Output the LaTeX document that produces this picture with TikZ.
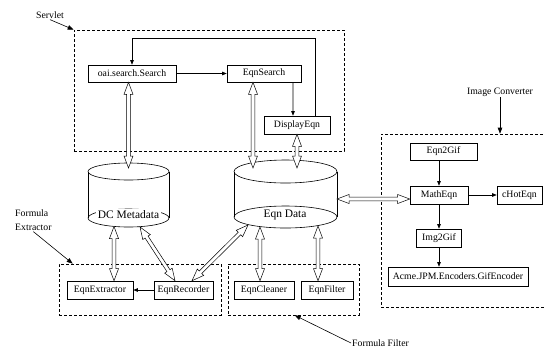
\documentclass[tikz,border=0pt]{standalone}
\usepackage{fontspec}
\setmainfont{Liberation Serif}
\usetikzlibrary{arrows.meta,calc,positioning}

\newcommand{\headlen}{12bp}
\newcommand{\headw}{4.5bp}
\newcommand{\shaftw}{1.8bp}
% hollow double-headed arrow between two points
\newcommand{\hollowarrow}[2]{%
  \coordinate (ha) at (#1);
  \coordinate (hb) at (#2);
  \draw[hollow] (ha)
    -- ($(ha)!\headlen!(hb)!\headw!90:(hb)$)
    -- ($(ha)!\headlen!(hb)!\shaftw!90:(hb)$)
    -- ($(hb)!\headlen!(ha)!\shaftw!-90:(ha)$)
    -- ($(hb)!\headlen!(ha)!\headw!-90:(ha)$)
    -- (hb)
    -- ($(hb)!\headlen!(ha)!\headw!90:(ha)$)
    -- ($(hb)!\headlen!(ha)!\shaftw!90:(ha)$)
    -- ($(ha)!\headlen!(hb)!\shaftw!-90:(hb)$)
    -- ($(ha)!\headlen!(hb)!\headw!-90:(hb)$)
    -- cycle;}

\tikzset{
  comp/.style={draw, line width=0.6bp, inner sep=1bp, minimum height=18bp,
    font=\fontsize{9.8}{11}\selectfont},
  group/.style={draw, dash pattern=on 3bp off 2bp, line width=0.6bp, inner sep=0pt},
  lbl/.style={inner sep=1bp, font=\fontsize{9.8}{14}\selectfont},
  store/.style={fill=white, inner sep=2bp, font=\fontsize{11.5}{13}\selectfont},
  cyl/.style={line width=0.6bp},
  flow/.style={-{Triangle[length=4.5bp,width=3.5bp]}, line width=0.6bp},
  pointer/.style={-{Triangle[length=6bp,width=4.5bp]}, line width=0.6bp},
  hollow/.style={draw, fill=white, line width=0.5bp}
}

\begin{document}
\begin{tikzpicture}[x=1bp, y=-1bp]
        \clip (0,0) rectangle (544,350);
        % dashed groups
        \node[group, minimum width=270bp, minimum height=121bp] (servlet) at (209,90.5) {};
        \node[group, minimum width=162bp, minimum height=51bp] (extract) at (140,289.5) {};
        \node[group, minimum width=131bp, minimum height=51bp] (filter) at (293.5,289.5) {};
        \node[group, minimum width=167bp, minimum height=173bp] (conv) at (464.5,220.5) {};
        % components
        \node[comp, minimum width=88bp, minimum height=17bp] (oai) at (132,73.5) {oai.search.Search};
        \node[comp, minimum width=74bp, minimum height=17bp] (search) at (264,73.5) {EqnSearch};
        \node[comp, minimum width=66bp] (disp) at (297,125) {DisplayEqn};
        \node[comp, minimum width=66bp] (extractor) at (100,290) {EqnExtractor};
        \node[comp, minimum width=59bp] (recorder) at (183.5,290) {EqnRecorder};
        \node[comp, minimum width=60bp] (cleaner) at (264,290) {EqnCleaner};
        \node[comp, minimum width=52bp] (eqfilter) at (327,290) {EqnFilter};
        \node[comp, minimum width=67bp, minimum height=17bp] (eqn2gif) at (443.5,151.5) {Eqn2Gif};
        \node[comp, minimum width=58bp] (matheqn) at (439,195) {MathEqn};
        \node[comp, minimum width=45bp] (chot) at (519.5,195) {cHotEqn};
        \node[comp, minimum width=45bp] (img2gif) at (439,238) {Img2Gif};
        \node[comp, minimum width=140bp, minimum height=19bp] (acme) at (458,276.5) {Acme.JPM.Encoders.GifEncoder};
        % DC Metadata store
        \draw[cyl] (128.5,171.5) ellipse[x radius=40.5bp, y radius=8.5bp];
        \draw[cyl] (88,171.5) -- (88,218) (169,171.5) -- (169,218);
        \draw[cyl] (128.5,218) ellipse[x radius=40.5bp, y radius=9bp];
        \node[store] (dc) at (128.5,215) {DC Metadata};
        % Eqn Data store
        \draw[cyl] (285.5,171.5) ellipse[x radius=51.5bp, y radius=11.5bp];
        \draw[cyl] (234,171.5) -- (234,217) (337,171.5) -- (337,217);
        \draw[cyl] (285.5,217) ellipse[x radius=51.5bp, y radius=11bp];
        \node[store, minimum height=14bp] (eqdata) at (285,215) {Eqn Data};
        \coordinate (dcTop) at (128.5,168);
        \coordinate (dcBotA) at (114,226.5);
        \coordinate (dcBotB) at (140,227);
        \coordinate (eqTopA) at (253,168);
        \coordinate (eqTopB) at (297,168);
        \coordinate (eqBotA) at (248,225);
        \coordinate (eqBotB) at (260,227);
        \coordinate (eqBotC) at (318,226);
        \coordinate (eqRight) at (337,199);
        % single arrows
        \draw[flow] (oai) -- (search);
        \draw[flow] ([xshift=29bp]search.south) -- ([xshift=-4bp]disp.north);
        \draw[flow] ([xshift=18bp]disp.north) -- ++(0,-77) -| (oai.north);
        \draw[flow] (recorder) -- (extractor);
        \draw[flow] (eqn2gif.south -| matheqn.north) -- (matheqn.north);
        \draw[flow] (matheqn) -- (chot);
        \draw[flow] (matheqn) -- (img2gif);
        \draw[flow] (img2gif.south) -- (img2gif.south |- acme.north);
        % hollow double arrows
        \hollowarrow{[xshift=-3.5bp]oai.south}{dcTop}
        \hollowarrow{[xshift=-11bp]search.south}{eqTopA}
        \hollowarrow{disp.south}{eqTopB}
        \hollowarrow{dcBotA}{[xshift=14bp]extractor.north}
        \hollowarrow{dcBotB}{[xshift=-8.5bp]recorder.north}
        \hollowarrow{[xshift=8.5bp]recorder.north}{eqBotA}
        \hollowarrow{eqBotB}{[xshift=-4bp]cleaner.north}
        \hollowarrow{eqBotC}{[xshift=-9bp]eqfilter.north}
        \hollowarrow{eqRight}{[yshift=-4bp]matheqn.west}
        % group labels
        \node[lbl] (lblservlet) at (50,15) {Servlet};
        \node[lbl] (lblconv) at (500,92) {Image Converter};
        \node[lbl, align=left, anchor=west] (lblextract) at (14,220) {Formula\\Extractor};
        \node[lbl, anchor=west] (lblfilter) at (351,343) {Formula Filter};
        \draw[pointer] (lblservlet.south) -- (servlet.north west);
        \draw[pointer] (lblconv) -- (lblconv |- conv.north);
        \draw[pointer] (lblextract.south) -- ([xshift=14bp]extract.north west);
        \draw[pointer] (lblfilter.west) -- ([xshift=67bp]filter.south west);
\end{tikzpicture}
\end{document}
